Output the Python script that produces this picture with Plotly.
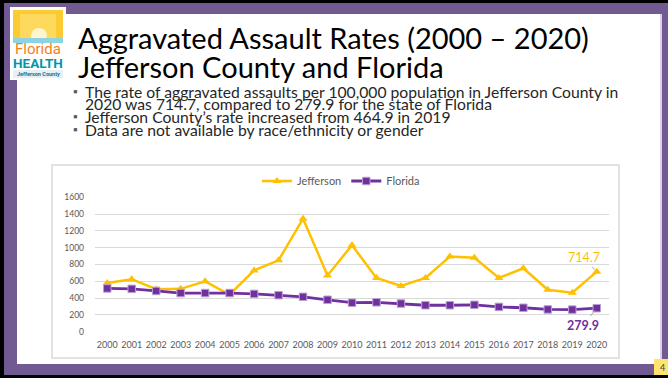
import plotly.graph_objects as go

W, H = 668, 378

years = [str(y) for y in range(2000, 2021)]
jefferson = [580, 625, 505, 510, 600, 440, 730, 850, 1345, 670, 1030,
             640, 545, 640, 895, 880, 640, 755, 500, 464.9, 714.7]
florida = [515, 510, 485, 460, 460, 460, 450, 435, 415, 380, 345,
           350, 335, 315, 315, 320, 295, 285, 265, 263, 279.9]
y_ticks = [0, 200, 400, 600, 800, 1000, 1200, 1400, 1600]

title_lines = ["Aggravated Assault Rates (2000 – 2020)", "Jefferson County and Florida"]
bullet_lines = [
    ("▪", "The rate of aggravated assaults per 100,000 population in Jefferson County in"),
    ("", "2020 was 714.7, compared to 279.9 for the state of Florida"),
    ("▪", "Jefferson County’s rate increased from 464.9 in 2019"),
    ("▪", "Data are not available by race/ethnicity or gender"),
]

YELLOW = "#FFC000"
PURPLE = "#7030A0"
FRAME = "#715A91"
FONT = "Lato"


def px(x):
    return x / W


def py(y):
    return 1 - y / H


def rect(x0, y0, x1, y1, fill=None, line=None, lw=0, layer="below"):
    return dict(type="rect", xref="paper", yref="paper",
                x0=px(x0), x1=px(x1), y0=py(y1), y1=py(y0),
                fillcolor=fill if fill else "rgba(0,0,0,0)",
                line=dict(color=line if line else "rgba(0,0,0,0)", width=lw),
                layer=layer)


fig = go.Figure()
fig.add_trace(go.Scatter(
    x=years, y=jefferson, name="Jefferson", mode="lines+markers",
    line=dict(color=YELLOW, width=2.5),
    marker=dict(symbol="triangle-up", size=8, color=YELLOW),
    cliponaxis=False,
))
fig.add_trace(go.Scatter(
    x=years, y=florida, name="Florida", mode="lines+markers",
    line=dict(color=PURPLE, width=2.8),
    marker=dict(symbol="square", size=7.5, color=PURPLE,
                line=dict(color="#B9A2CF", width=1)),
    cliponaxis=False,
))

shapes = [
    rect(0, 0, W, H, fill="#000000"),
    rect(4, 3, W, 375, fill=FRAME),
    rect(17, 14, 662, 364, fill="#D9D0E4"),
    rect(17, 14, 660, 364, fill="#FFFFFF"),
    rect(52, 165, 619, 358, fill="#FFFFFF", line="#D9D9D9", lw=1.5),
    rect(654, 359, W, 375, fill="#FFE36E"),
    # logo
    rect(10, 7, 66, 80, fill="#FFFFFF"),
    rect(13, 10, 63, 40, fill="#FCCB33"),
    rect(20, 14, 56, 40, fill="#FDDA5E"),
    dict(type="circle", xref="paper", yref="paper",
         x0=px(31), x1=px(47), y0=py(44), y1=py(28),
         fillcolor="#FFF6D0", line=dict(width=0), layer="below"),
    rect(13, 38, 63, 43, fill="#8ED3E2"),
    rect(13, 70, 63, 78, fill="#E4F2F6"),
]

annotations = []
# title
for i, t in enumerate(title_lines):
    annotations.append(dict(
        text=t, xref="paper", yref="paper", x=px(76), y=py(37 + 30 * i),
        xanchor="left", yanchor="middle", showarrow=False,
        font=dict(family=FONT, size=29, color="#000000")))
# bullets
for i, (b, t) in enumerate(bullet_lines):
    yy = 91.5 + 12.7 * i
    if b:
        annotations.append(dict(
            text=b, xref="paper", yref="paper", x=px(75), y=py(yy),
            xanchor="center", yanchor="middle", showarrow=False,
            font=dict(family=FONT, size=12, color="#595959")))
    annotations.append(dict(
        text=t, xref="paper", yref="paper", x=px(83), y=py(yy),
        xanchor="left", yanchor="middle", showarrow=False,
        font=dict(family=FONT, size=15.7, color="#262626")))
# logo text
annotations += [
    dict(text="Florida", xref="paper", yref="paper", x=px(38), y=py(49),
         xanchor="center", yanchor="middle", showarrow=False,
         font=dict(family="Roboto", size=15, color="#F58220")),
    dict(text="<b>HEALTH</b>", xref="paper", yref="paper", x=px(38), y=py(62.5),
         xanchor="center", yanchor="middle", showarrow=False,
         font=dict(family="Roboto", size=13.5, color="#0098A8")),
    dict(text="<b>Jefferson County</b>", xref="paper", yref="paper", x=px(38), y=py(74),
         xanchor="center", yanchor="middle", showarrow=False,
         font=dict(family="Roboto", size=5.5, color="#1F6F8B")),
    dict(text="4", xref="paper", yref="paper", x=px(662), y=py(367),
         xanchor="center", yanchor="middle", showarrow=False,
         font=dict(family=FONT, size=9, color="#404040")),
]
# data labels for 2020 (category index of last year)
last = len(years) - 1
annotations += [
    dict(text="714.7", x=last, y=jefferson[-1], xref="x", yref="y",
         ax=-13, ay=-14, showarrow=True, arrowhead=0, arrowwidth=1,
         arrowcolor="#A6A6A6", standoff=3,
         font=dict(family=FONT, size=12.5, color=YELLOW)),
    dict(text="<b>279.9</b>", x=last, y=florida[-1], xref="x", yref="y",
         ax=-14, ay=17, showarrow=True, arrowhead=0, arrowwidth=1,
         arrowcolor="#A6A6A6", standoff=3,
         font=dict(family=FONT, size=12.5, color=PURPLE)),
]

fig.update_layout(
    width=W, height=H,
    margin=dict(l=0, r=0, t=0, b=0, autoexpand=False),
    paper_bgcolor="#000000", plot_bgcolor="rgba(0,0,0,0)",
    shapes=shapes, annotations=annotations,
    showlegend=True,
    legend=dict(orientation="h", x=px(257), y=py(181), xanchor="left",
                yanchor="middle", bgcolor="rgba(0,0,0,0)",
                font=dict(family=FONT, size=11, color="#595959")),
    xaxis=dict(domain=[px(95), px(609)], type="category", range=[-0.5, 20.5],
               showgrid=False, zeroline=False, showline=False, ticks="",
               ticklabelstandoff=6,
               tickfont=dict(family=FONT, size=9, color="#595959"),
               tickangle=0, fixedrange=True),
    yaxis=dict(domain=[py(331.7), py(197.3)], range=[0, 1600],
               tickvals=y_ticks, showgrid=True, gridcolor="#D9D9D9", gridwidth=1,
               zeroline=False, showline=False, ticks="",
               ticklabelstandoff=10,
               tickfont=dict(family=FONT, size=8.5, color="#595959"),
               fixedrange=True),
)

fig.write_html(
    "out.html",
    config={"displayModeBar": False},
    post_script="document.body.style.margin='0';document.body.style.overflow='hidden';",
)
